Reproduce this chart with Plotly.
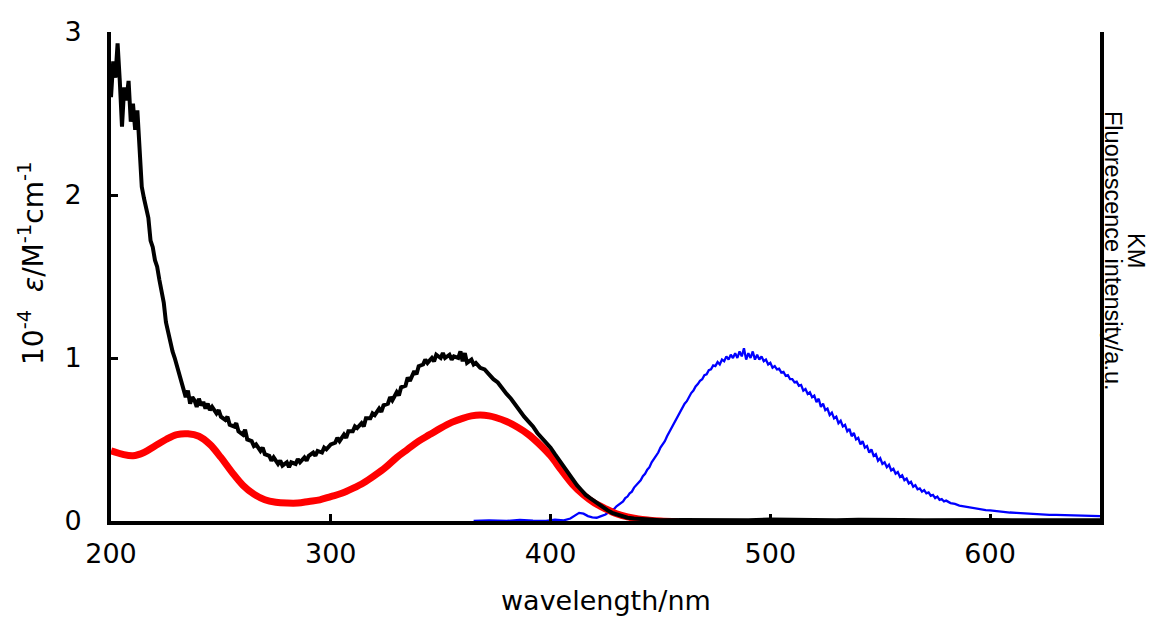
import plotly.graph_objects as go

# ---------------- data ----------------
abs_wl = [200, 201, 202, 203, 204, 205, 206, 207, 208, 209, 210, 211, 212, 213, 214, 215, 216, 217, 218, 219,
          220, 221, 222, 223, 224, 225, 226, 227, 228, 229, 230, 231, 232, 233, 234, 235, 236, 237, 238, 239,
          240, 241, 242, 243, 244, 245, 246, 248, 249, 250, 252, 253, 254, 256, 257, 258, 260, 261, 262, 264,
          265, 266, 268, 269, 270, 272, 273, 274, 276, 277, 278, 280, 281, 282, 284, 285, 286, 288, 289, 290,
          292, 293, 294, 296, 297, 298, 300, 302, 303, 304, 306, 307, 308, 310, 311, 312, 314, 315, 316, 318,
          319, 320, 322, 323, 324, 326, 327, 328, 330, 331, 332, 334, 335, 336, 338, 339, 340, 342, 343, 344,
          346, 347, 348, 350, 351, 352, 354, 355, 356, 358, 359, 360, 361, 362, 364, 365, 366, 368, 370, 372,
          374, 376, 378, 380, 382, 384, 386, 388, 390, 392, 394, 396, 398, 400, 402, 404, 406, 408, 410, 412,
          414, 416, 418, 420, 422, 424, 426, 428, 430, 432, 435, 438, 442, 446, 450, 460, 470, 480, 490, 500,
          510, 520, 530, 540, 550, 560, 570, 580, 590, 600, 610, 620, 630, 640, 650]
abs_eps = [2.60, 2.82, 2.72, 2.93, 2.70, 2.42, 2.66, 2.58, 2.70, 2.45, 2.56, 2.40, 2.52, 2.30, 2.05, 1.98, 1.92, 1.86, 1.72, 1.68,
           1.60, 1.56, 1.48, 1.40, 1.34, 1.22, 1.15, 1.10, 1.04, 1.00, 0.95, 0.92, 0.86, 0.82, 0.76, 0.80, 0.72, 0.76, 0.74, 0.70,
           0.75, 0.71, 0.73, 0.69, 0.72, 0.68, 0.70, 0.66, 0.68, 0.64, 0.62, 0.64, 0.59, 0.58, 0.60, 0.55, 0.53, 0.56, 0.50, 0.49,
           0.46, 0.47, 0.43, 0.45, 0.41, 0.40, 0.37, 0.39, 0.35, 0.37, 0.34, 0.36, 0.33, 0.36, 0.35, 0.38, 0.36, 0.39, 0.37, 0.40,
           0.42, 0.40, 0.43, 0.42, 0.45, 0.44, 0.47, 0.48, 0.51, 0.49, 0.53, 0.51, 0.55, 0.55, 0.58, 0.57, 0.60, 0.58, 0.63, 0.63,
           0.66, 0.65, 0.69, 0.67, 0.71, 0.72, 0.76, 0.74, 0.79, 0.77, 0.82, 0.83, 0.88, 0.86, 0.92, 0.90, 0.95, 0.96, 0.99, 0.97,
           1.00, 0.98, 1.02, 1.00, 1.03, 1.00, 1.02, 0.99, 1.01, 1.00, 1.04, 0.98, 1.03, 0.97, 0.99, 0.96, 0.97, 0.94, 0.93, 0.90,
           0.87, 0.85, 0.81, 0.78, 0.75, 0.71, 0.67, 0.64, 0.61, 0.58, 0.54, 0.51, 0.48, 0.45, 0.41, 0.37, 0.33, 0.29, 0.25, 0.22,
           0.19, 0.16, 0.14, 0.12, 0.10, 0.08, 0.065, 0.05, 0.04, 0.03, 0.02, 0.015, 0.01, 0.006, 0.005, 0.006, 0.004, 0.008, 0.005, 0.009,
           0.006, 0.008, 0.005, 0.007, 0.004, 0.006, 0.005, 0.007, 0.004, 0.006, 0.005, 0.004, 0.006, 0.005, 0.004]

km_wl = [200, 205, 210, 215, 220, 225, 230, 235, 240, 245, 250, 255, 260, 265, 270, 275, 280, 285, 290, 295,
         300, 305, 310, 315, 320, 325, 330, 335, 340, 345, 350, 355, 360, 364, 368, 372, 375, 380, 385, 390,
         395, 400, 405, 410, 415, 420, 425, 430, 435, 440, 445, 450, 458]
km_val = [0.43, 0.41, 0.40, 0.42, 0.46, 0.50, 0.53, 0.535, 0.52, 0.47, 0.39, 0.30, 0.22, 0.165, 0.13, 0.115, 0.11, 0.11, 0.12, 0.13,
          0.15, 0.17, 0.20, 0.235, 0.28, 0.33, 0.39, 0.44, 0.49, 0.53, 0.57, 0.605, 0.63, 0.645, 0.65, 0.645, 0.635, 0.61, 0.575, 0.53,
          0.47, 0.40, 0.31, 0.225, 0.16, 0.11, 0.075, 0.045, 0.025, 0.012, 0.005, 0.0, -0.005]

fl_wl = [365, 372, 380, 386, 392, 398, 402, 406, 409, 411, 413, 415, 417, 419, 421, 423, 425, 427, 429,
         430, 431, 432, 433, 434, 435, 436, 437, 438, 439, 440, 441, 442, 443, 444, 445, 446, 447, 448, 449,
         450, 451, 452, 453, 454, 455, 456, 457, 458, 459, 460, 461, 462, 463, 464, 465, 466, 467, 468, 469,
         470, 471, 472, 473, 474, 475, 476, 477, 478, 479, 480, 481, 482, 483, 484, 485, 486, 487, 488, 489,
         490, 491, 492, 493, 494, 495, 496, 497, 498, 499, 500, 501, 502, 503, 504, 505, 506, 507, 508, 509,
         510, 511, 512, 513, 514, 515, 516, 517, 518, 519, 520, 521, 522, 523, 524, 525, 526, 527, 528, 529,
         530, 531, 532, 533, 534, 535, 536, 537, 538, 539, 540, 541, 542, 543, 544, 545, 546, 547, 548, 549,
         550, 551, 552, 553, 554, 555, 556, 557, 558, 559, 560, 561, 562, 563, 564, 565, 566, 567, 568, 569,
         570, 571, 572, 573, 574, 575, 576, 577, 578, 579, 580, 582, 584, 586, 588, 590, 592, 594, 596, 598,
         600, 603, 606, 609, 612, 615, 618, 621, 624, 627, 630, 634, 638, 642, 646, 650]
fl_int = [0.0, 0.004, 0.0, 0.006, 0.002, 0.0, 0.008, 0.004, 0.015, 0.035, 0.05, 0.045, 0.03, 0.022, 0.02, 0.03, 0.04, 0.06, 0.075,
          0.09, 0.10, 0.115, 0.12, 0.14, 0.15, 0.17, 0.18, 0.205, 0.22, 0.24, 0.25, 0.275, 0.29, 0.315, 0.33, 0.36, 0.38, 0.395, 0.42,
          0.45, 0.47, 0.49, 0.52, 0.545, 0.57, 0.59, 0.62, 0.645, 0.67, 0.69, 0.72, 0.735, 0.76, 0.785, 0.80, 0.825, 0.84, 0.86, 0.87,
          0.895, 0.90, 0.925, 0.93, 0.955, 0.95, 0.975, 0.96, 0.99, 0.98, 1.01, 0.99, 1.02, 1.00, 1.03, 1.00, 1.04, 1.01, 1.06, 0.99,
          1.03, 1.00, 1.04, 0.99, 1.02, 0.99, 1.01, 0.98, 0.99, 0.96, 0.97, 0.94, 0.95, 0.93, 0.935, 0.91, 0.915, 0.89, 0.895, 0.87,
          0.87, 0.85, 0.855, 0.83, 0.835, 0.80, 0.81, 0.78, 0.79, 0.76, 0.77, 0.73, 0.75, 0.70, 0.72, 0.68, 0.69, 0.65, 0.665, 0.63,
          0.64, 0.60, 0.615, 0.58, 0.59, 0.55, 0.565, 0.52, 0.54, 0.50, 0.51, 0.47, 0.49, 0.45, 0.46, 0.42, 0.44, 0.40, 0.41, 0.37,
          0.385, 0.35, 0.36, 0.33, 0.345, 0.31, 0.32, 0.29, 0.30, 0.27, 0.28, 0.25, 0.26, 0.23, 0.24, 0.21, 0.22, 0.195, 0.20, 0.18,
          0.19, 0.17, 0.175, 0.155, 0.16, 0.14, 0.15, 0.13, 0.135, 0.12, 0.125, 0.11, 0.105, 0.095, 0.09, 0.085, 0.08, 0.075, 0.072, 0.067,
          0.065, 0.06, 0.057, 0.052, 0.05, 0.047, 0.045, 0.042, 0.040, 0.038, 0.037, 0.035, 0.033, 0.032, 0.031, 0.03]

x_ticks = [200, 300, 400, 500, 600]
y_ticks = [0, 1, 2, 3]

HFONT = "DejaVu Sans, Liberation Sans, sans-serif"
VFONT = "Liberation Sans, Arial, Helvetica, sans-serif"

fig = go.Figure()
fig.add_trace(go.Scatter(x=fl_wl, y=fl_int, mode="lines",
                         line=dict(color="#0000ff", width=2.3), showlegend=False))
fig.add_trace(go.Scatter(x=km_wl, y=km_val, mode="lines", line_shape="spline",
                         line=dict(color="#ff0000", width=7), showlegend=False))
fig.add_trace(go.Scatter(x=abs_wl, y=abs_eps, mode="lines",
                         line=dict(color="#000000", width=4), showlegend=False))

fig.update_layout(
    width=1155, height=624,
    margin=dict(l=111, r=55, t=32, b=103),
    paper_bgcolor="white", plot_bgcolor="white",
    font=dict(family=HFONT, color="black", size=27),
    xaxis=dict(range=[200, 650], tickvals=x_ticks, ticks="inside", ticklen=7, tickwidth=3,
               tickcolor="black", showline=True, linewidth=4, linecolor="black",
               showgrid=False, zeroline=False, ticklabelstandoff=6, automargin=False,
               tickfont=dict(family=HFONT, size=27)),
    yaxis=dict(range=[0, 3], tickvals=y_ticks, ticks="inside", ticklen=7, tickwidth=3,
               tickcolor="black", showline=True, linewidth=4, linecolor="black",
               mirror=True, showgrid=False, zeroline=False, ticklabelstandoff=20, automargin=False,
               tickfont=dict(family=HFONT, size=27)),
)

# axis titles as annotations for exact placement
fig.add_annotation(text="wavelength/nm", showarrow=False, xref="paper", yref="paper",
                   x=0.5, y=-0.1616, xanchor="center", yanchor="middle",
                   font=dict(family=HFONT, size=27))
fig.add_annotation(text="10<sup>-4</sup>  <i>ε</i>/M<sup>-1</sup>cm<sup>-1</sup>", textangle=-90,
                   showarrow=False, xref="paper", yref="paper", x=-0.0809, y=0.5276,
                   xanchor="center", yanchor="middle", font=dict(family=HFONT, size=28))
fig.add_annotation(text="Fluorescence intensity/a.u.", textangle=90, showarrow=False,
                   xref="paper", yref="paper", x=1.0132, y=0.552,
                   xanchor="center", yanchor="middle", font=dict(family=VFONT, size=23.5))
fig.add_annotation(text="KM", textangle=90, showarrow=False,
                   xref="paper", yref="paper", x=1.0364, y=0.552,
                   xanchor="center", yanchor="middle", font=dict(family=VFONT, size=23.5))

fig.write_html("out.html", config={"displayModeBar": False},
               post_script="document.body.style.margin='0px';")
